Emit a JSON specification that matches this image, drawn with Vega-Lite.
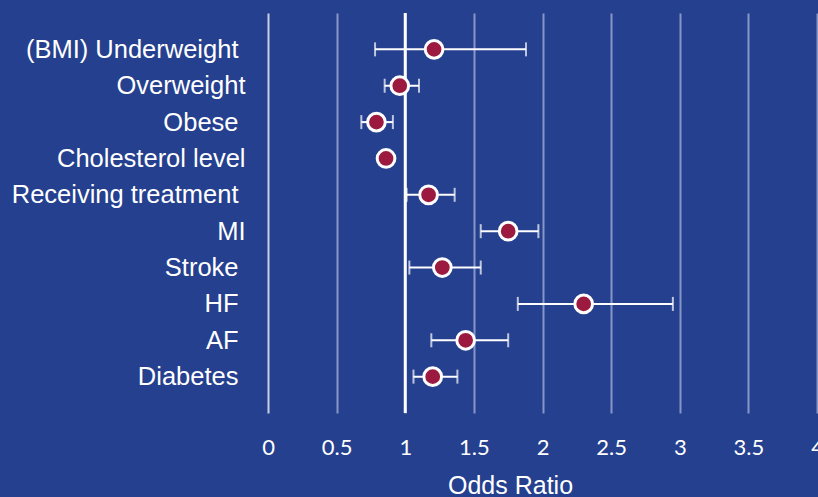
{
  "$schema": "https://vega.github.io/schema/vega-lite/v6.json",
  "width": 549,
  "height": 400,
  "autosize": {"type": "none"},
  "padding": {"left": 268, "top": 13, "right": 1, "bottom": 84},
  "background": "#25408e",
  "config": {"view": {"stroke": null}},
  "data": {
    "values": [
      {"factor": "(BMI) Underweight", "or": 1.21, "lo": 0.78, "hi": 1.88},
      {"factor": "Overweight", "or": 0.96, "lo": 0.85, "hi": 1.1},
      {"factor": "Obese", "or": 0.79, "lo": 0.68, "hi": 0.91},
      {"factor": "Cholesterol level", "or": 0.86, "lo": null, "hi": null},
      {"factor": "Receiving treatment", "or": 1.17, "lo": 1.01, "hi": 1.36},
      {"factor": "MI", "or": 1.75, "lo": 1.55, "hi": 1.97},
      {"factor": "Stroke", "or": 1.27, "lo": 1.03, "hi": 1.55},
      {"factor": "HF", "or": 2.3, "lo": 1.82, "hi": 2.95},
      {"factor": "AF", "or": 1.44, "lo": 1.19, "hi": 1.75},
      {"factor": "Diabetes", "or": 1.2, "lo": 1.06, "hi": 1.38}
    ]
  },
  "layer": [
    {
      "data": {"values": [{"ref": 1}]},
      "mark": {"type": "rule", "color": "#ffffff", "strokeWidth": 3},
      "encoding": {
        "x": {
          "field": "ref",
          "type": "quantitative",
          "scale": {"domain": [0, 4], "nice": false, "zero": false},
          "axis": {
            "values": [0, 0.5, 1, 1.5, 2, 2.5, 3, 3.5, 4],
            "domain": false,
            "ticks": false,
            "tickSize": 0,
            "grid": true,
            "gridColor": {"condition": {"test": "datum.value === 0", "value": "#c9cfe3"}, "value": "#8796c6"},
            "gridWidth": 2,
            "labelFont": "Lato",
            "labelFontSize": 22,
            "labelColor": "#ffffff",
            "labelPadding": 24,
            "labelFlush": false,
            "labelOverlap": false,
            "format": "~g",
            "title": "Odds Ratio",
            "titleFont": "Liberation Sans",
            "titleFontSize": 25,
            "titleFontWeight": "normal",
            "titleColor": "#ffffff",
            "titleX": 242,
            "titleY": 80,
            "titleAlign": "center",
            "titleBaseline": "alphabetic"
          }
        }
      }
    },
    {
      "mark": {"type": "rule", "color": "#ffffff", "strokeWidth": 2},
      "encoding": {
        "y": {
          "field": "factor",
          "type": "nominal",
          "sort": ["(BMI) Underweight", "Overweight", "Obese", "Cholesterol level", "Receiving treatment", "MI", "Stroke", "HF", "AF", "Diabetes"],
          "scale": {"type": "point", "padding": 1, "domain": ["(BMI) Underweight", "Overweight", "Obese", "Cholesterol level", "Receiving treatment", "MI", "Stroke", "HF", "AF", "Diabetes"]},
          "axis": {
            "domain": false,
            "ticks": false,
            "grid": false,
            "title": null,
            "labelFont": "Liberation Sans",
            "labelFontSize": 25.5,
            "labelColor": "#ffffff",
            "labelPadding": {"condition": {"test": "indexof(['Overweight', 'Cholesterol level', 'MI'], datum.value) >= 0", "value": 23}, "value": 30},
            "labelLimit": 400
          }
        },
        "x": {"field": "lo", "type": "quantitative"},
        "x2": {"field": "hi"}
      }
    },
    {
      "mark": {"type": "tick", "color": "#ffffff", "size": 14, "thickness": 2, "orient": "vertical"},
      "encoding": {
        "y": {"field": "factor", "type": "nominal"},
        "x": {"field": "lo", "type": "quantitative"}
      }
    },
    {
      "mark": {"type": "tick", "color": "#ffffff", "size": 14, "thickness": 2, "orient": "vertical"},
      "encoding": {
        "y": {"field": "factor", "type": "nominal"},
        "x": {"field": "hi", "type": "quantitative"}
      }
    },
    {
      "mark": {"type": "circle", "fill": "#9c1a3f", "stroke": "#ffffff", "strokeWidth": 3, "size": 314, "opacity": 1},
      "encoding": {
        "y": {"field": "factor", "type": "nominal"},
        "x": {"field": "or", "type": "quantitative"}
      }
    }
  ]
}
